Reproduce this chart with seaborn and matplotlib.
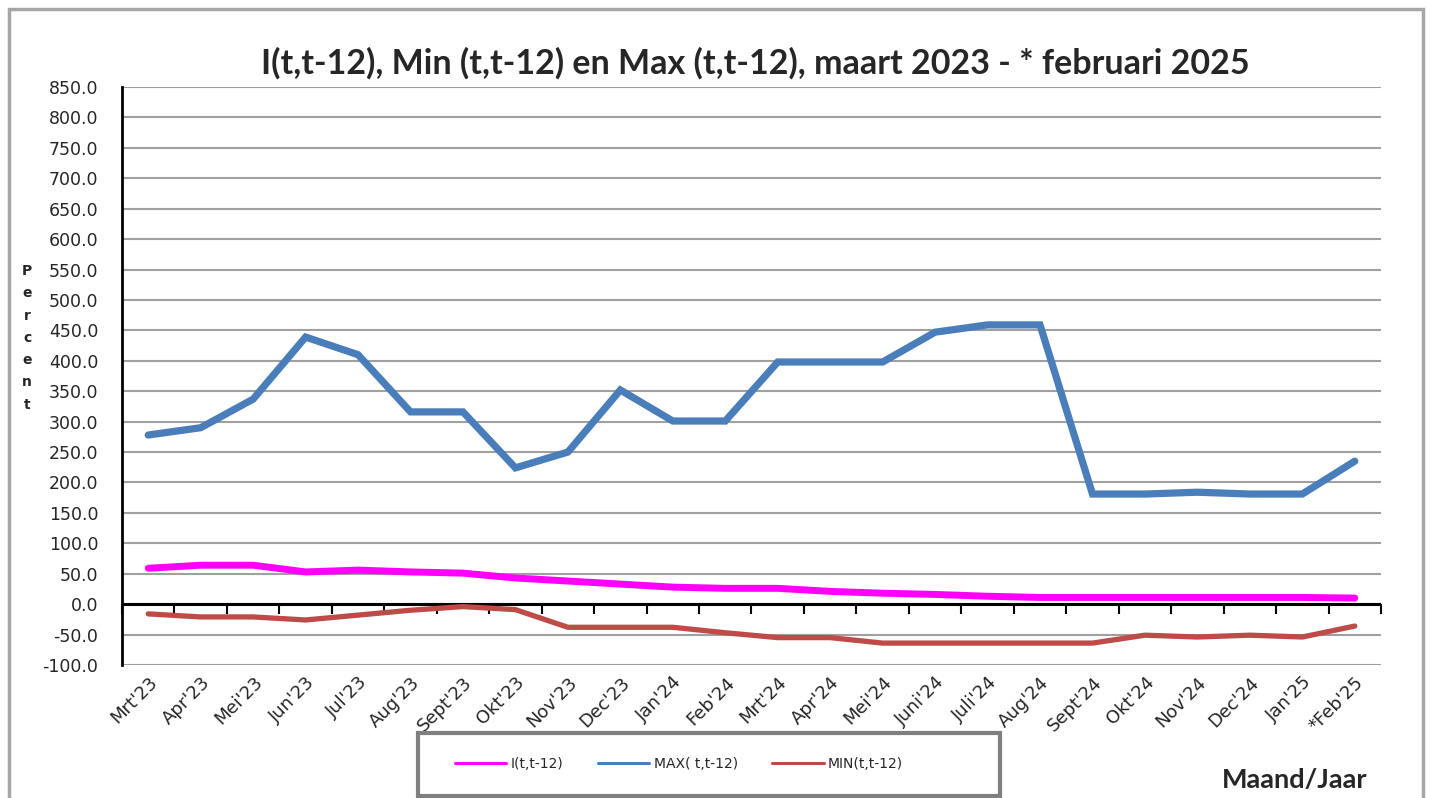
import numpy as np
import pandas as pd
import matplotlib
matplotlib.use("Agg")
import matplotlib.pyplot as plt
import seaborn as sns
from matplotlib.patches import Rectangle

months = ["Mrt'23", "Apr'23", "Mei'23", "Jun'23", "Jul'23", "Aug'23", "Sept'23", "Okt'23",
          "Nov'23", "Dec'23", "Jan'24", "Feb'24", "Mrt'24", "Apr'24", "Mei'24", "Juni'24",
          "Juli'24", "Aug'24", "Sept'24", "Okt'24", "Nov'24", "Dec'24", "Jan'25", "*Feb'25"]
i_vals = [59, 64, 64, 53, 56, 53, 51, 43, 38, 33, 28, 26, 26, 21, 18, 16, 13, 11,
          11, 11, 11, 11, 11, 10]
max_vals = [278, 290, 337, 439, 410, 316, 316, 224, 250, 352, 301, 301, 398, 398, 398, 447,
            459, 459, 181, 181, 184, 181, 181, 235]
min_vals = [-16, -21, -21, -26, -18, -10, -4, -9, -38, -38, -38, -47, -55, -55, -64, -64,
            -64, -64, -64, -51, -54, -51, -54, -36]
series_names = ["I(t,t-12)", "MAX( t,t-12)", "MIN(t,t-12)"]
colors = ["#FF00FF", "#4A7EBB", "#BE4B48"]
yticks = list(range(-100, 851, 50))

df = pd.DataFrame({
    "x": list(range(len(months))) * 3,
    "value": i_vals + max_vals + min_vals,
    "series": [series_names[0]] * len(months) + [series_names[1]] * len(months) + [series_names[2]] * len(months),
})

sns.set_style("white")
plt.rcParams['font.family'] = ['DejaVu Sans']

fig = plt.figure(figsize=(14.32, 7.98), dpi=100)
ax = fig.add_axes([122/1432, 1-665/798, (1381-122)/1432, (665-87)/798])

sns.lineplot(data=df, x="x", y="value", hue="series", hue_order=series_names,
             palette=dict(zip(series_names, colors)), ax=ax, legend=True)
lws = {series_names[0]: 5.0, series_names[1]: 5.2, series_names[2]: 3.8}
for line, name in zip(ax.lines, series_names):
    line.set_linewidth(lws[name])
    line.set_solid_capstyle('round')
    line.set_solid_joinstyle('miter')

ax.set_xlim(-0.5, len(months) - 0.5)
ax.set_ylim(-100, 850)
ax.set_yticks(yticks)
ax.set_yticklabels([f"{v:.1f}" for v in yticks], fontsize=12.5)
ax.yaxis.grid(True, color="#A0A0A0", linewidth=1.5)
ax.xaxis.grid(False)
ax.set_axisbelow(True)
ax.set_xlabel("")
ax.set_ylabel("")

for s in ["top", "right", "bottom"]:
    ax.spines[s].set_visible(False)
ax.spines["left"].set_color("black")
ax.spines["left"].set_linewidth(2)
ax.tick_params(axis="y", direction="out", length=5, width=1.5, color="black", pad=12)

ax.set_xticks(range(len(months)))
ax.set_xticklabels(months, rotation=45, ha="right", rotation_mode="anchor", fontsize=13)
ax.tick_params(axis="x", length=0, pad=6)

# zero axis line with category boundary tick marks
ax.axhline(0, color="black", linewidth=2.2, zorder=1.5)
sec = ax.secondary_xaxis(100/950)
sec.set_xticks(np.arange(-0.5, len(months) + 0.5, 1.0))
sec.set_xticklabels([])
sec.tick_params(direction="out", length=7, width=1.5, color="black")
sec.spines["bottom"].set_visible(False)

fig.text(755/1432, 1-63/798, "I(t,t-12), Min (t,t-12) en Max (t,t-12), maart 2023 - * februari 2025",
         ha="center", va="center", fontsize=24.5, fontweight="bold", family="Lato")

fig.text(27/1432, 1-338/798, "P\ne\nr\nc\ne\nn\nt", ha="center", va="center",
         fontsize=10, fontweight="bold", linespacing=1.75)

fig.text(1295/1432, 1-780/798, "Maand/Jaar", ha="center", va="center",
         fontsize=19.5, fontweight="bold", family="Lato")

# legend
leg = ax.legend_
handles = leg.legend_handles
labels = [t.get_text() for t in leg.get_texts()]
ax.legend_.remove()
for h in handles:
    h.set_linewidth(2.2)
leg = fig.legend(handles, labels, ncol=3, loc="center left",
                 bbox_to_anchor=(455/1432, 1-764/798),
                 frameon=False, fontsize=10, handlelength=3.7, handletextpad=0.3,
                 borderaxespad=0, borderpad=0, columnspacing=2.5)
fig.patches.append(Rectangle((418/1432, 1-796/798), (1000-418)/1432, 63/798, transform=fig.transFigure,
                             fill=False, edgecolor="#7F7F7F", linewidth=3, zorder=2))

# outer border
fig.patches.append(Rectangle((9/1432, -0.01), 1414/1432, 1-9/798 + 0.01, transform=fig.transFigure,
                             fill=False, edgecolor="#A6A6A6", linewidth=2.5, zorder=0))

fig.savefig("out.png", dpi=100)
